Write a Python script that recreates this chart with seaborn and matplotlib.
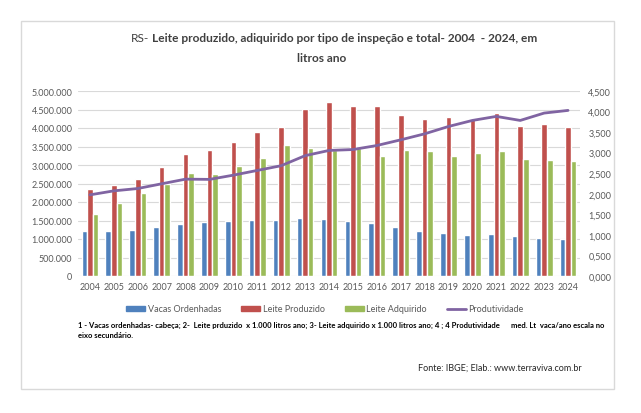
import numpy as np
import pandas as pd
import matplotlib
matplotlib.use("Agg")
import matplotlib.pyplot as plt
import seaborn as sns
from matplotlib.patches import Patch, Rectangle
from matplotlib.lines import Line2D
from matplotlib.ticker import FuncFormatter, MultipleLocator

# dados
anos = [str(a) for a in range(2004, 2025)]
vacas = [1208000, 1205000, 1250000, 1330000, 1410000, 1460000, 1500000,
         1520000, 1520000, 1570000, 1540000, 1500000, 1445000, 1330000,
         1220000, 1170000, 1120000, 1130000, 1070000, 1040000, 995000]
leite_produzido = [2350000, 2460000, 2630000, 2940000, 3310000, 3400000, 3630000,
                   3880000, 4040000, 4510000, 4690000, 4585000, 4600000, 4350000,
                   4230000, 4290000, 4240000, 4400000, 4050000, 4110000, 4020000]
leite_adquirido = [1667000, 1970000, 2240000, 2480000, 2780000, 2750000, 2970000,
                   3190000, 3540000, 3460000, 3400000, 3470000, 3240000, 3410000,
                   3380000, 3240000, 3320000, 3380000, 3160000, 3140000, 3100000]
produtividade = [1974, 2071, 2128, 2243, 2356, 2350, 2453, 2568, 2683, 2927, 3054,
                 3076, 3174, 3312, 3458, 3637, 3784, 3882, 3784, 3963, 4028]
series = ["Vacas Ordenhadas", "Leite Produzido", "Leite Adquirido"]
cores = ["#4F81BD", "#C0504D", "#9BBB59"]
cor_linha = "#8064A2"

df = pd.DataFrame({
    "ano": anos * 3,
    "serie": np.repeat(series, len(anos)),
    "valor": vacas + leite_produzido + leite_adquirido,
})

sns.set_style("white")
plt.rcParams["font.family"] = ["Lato", "DejaVu Sans"]

W, H = 641, 414
fig = plt.figure(figsize=(W / 100, H / 100), dpi=100)
ax = fig.add_axes([78 / W, 1 - 277 / H, (580 - 78) / W, (277 - 92) / H])

sns.barplot(data=df, x="ano", y="valor", hue="serie", palette=cores,
            width=0.7, saturation=1, errorbar=None, legend=False, ax=ax)
ax.set_ylim(0, 5000000)
ax.yaxis.set_major_locator(MultipleLocator(500000))
ax.yaxis.set_major_formatter(FuncFormatter(lambda v, p: f"{int(v):,}".replace(",", ".")))
ax.grid(axis="y", color="#d9d9d9", lw=0.8)
ax.set_axisbelow(True)
ax.set_xlabel("")
ax.set_ylabel("")
for s in ax.spines.values():
    s.set_visible(False)
ax.tick_params(axis="both", length=0, labelsize=6.5, colors="#595959", pad=4)

ax2 = ax.twinx()
sns.lineplot(x=np.arange(len(anos)), y=produtividade, color=cor_linha, lw=2, ax=ax2)
ax2.set_ylim(0, 4500)
ax2.yaxis.set_major_locator(MultipleLocator(500))
ax2.yaxis.set_major_formatter(FuncFormatter(lambda v, p: f"{v / 1000:.3f}".replace(".", ",")))
for s in ax2.spines.values():
    s.set_visible(False)
ax2.tick_params(axis="y", length=0, labelsize=6.5, colors="#595959", pad=6)
ax2.set_ylabel("")
ax.set_xlim(-0.5, len(anos) - 0.5)

# moldura
fig.patches.append(Rectangle((21 / W, 1 - 390 / H), (614 - 21) / W, (390 - 22) / H,
                             transform=fig.transFigure, fill=False,
                             edgecolor="#d9d9d9", lw=1))

# título (parte normal + parte em negrito)
fig.canvas.draw()
r = fig.canvas.get_renderer()
t1 = fig.text(0, 1 - 38 / H, "RS-", fontsize=8.6, color="#404040", va="center")
t2 = fig.text(0, 1 - 38 / H, "Leite produzido, adiquirido por tipo de inspeção e total- 2004  - 2024, em",
              fontsize=8.6, weight="bold", color="#404040", va="center")
w1 = t1.get_window_extent(r).width
w2 = t2.get_window_extent(r).width
gap = 3
x0 = 334 - (w1 + gap + w2) / 2
t1.set_x(x0 / W)
t2.set_x((x0 + w1 + gap) / W)
fig.text(322 / W, 1 - 58 / H, "litros ano", fontsize=8.6, weight="bold",
         color="#404040", ha="center", va="center")

handles = [Patch(color=c) for c in cores] + [Line2D([], [], color=cor_linha, lw=2)]
fig.legend(handles, series + ["Produtividade"], loc="center",
           bbox_to_anchor=(325 / W, 1 - 310 / H), ncol=4, frameon=False,
           fontsize=6.5, labelcolor="#595959", handlelength=2.1, handleheight=0.45,
           handletextpad=0.3, columnspacing=2.2)

fig.text(78 / W, 1 - 325 / H,
         "1 - Vacas ordenhadas- cabeça; 2-  Leite prduzido  x 1.000 litros ano; 3- Leite adquirido x 1.000 litros ano; 4 ; 4 Produtividade      med. Lt  vaca/ano escala no",
         fontsize=5.5, weight="bold", color="black", va="center")
fig.text(78 / W, 1 - 335 / H, "eixo secundário.", fontsize=5.5, weight="bold",
         color="black", va="center")
fig.text(582 / W, 1 - 368 / H, "Fonte: IBGE; Elab.: www.terraviva.com.br",
         fontsize=6.5, color="#262626", ha="right", va="center")

fig.savefig("out.png", dpi=100, facecolor="white")
